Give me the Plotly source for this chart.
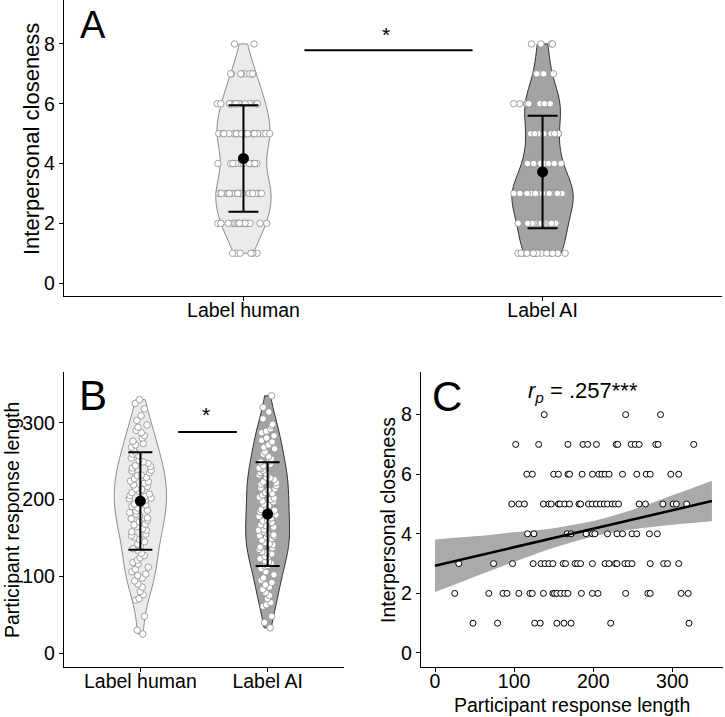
import numpy as np
import plotly.graph_objects as go

FONT = "Liberation Sans, Arial, sans-serif"
W, H = 725, 717

# ---------------- data ----------------
groups = ["Label human", "Label AI"]
group_pos = [1, 2]

closeness_levels = [1, 2, 3, 4, 5, 6, 7, 8]
human_closeness_counts = [6, 17, 22, 13, 21, 16, 9, 2]
ai_closeness_counts = [15, 16, 24, 12, 10, 14, 5, 4]
closeness_mean = [4.17, 3.72]
closeness_sd = [1.78, 1.88]

human_length = [330, 325, 318, 309, 303,
                297, 294, 290, 287, 283, 280, 276, 273, 271, 268, 265, 262, 259, 257, 254, 251,
                249, 247, 244, 243, 241, 238, 237, 235, 232, 231, 229, 227, 224, 223, 221, 219,
                217, 214, 213, 211, 209, 207, 205, 204, 202, 201,
                199, 197, 194, 193, 191, 189, 186, 185, 183, 181, 179, 176, 175, 173, 171, 168,
                167, 165, 162, 160, 158, 155, 153, 151,
                148, 145, 142, 139, 136, 134, 130, 127, 124, 121, 118, 116, 112, 109, 106, 103, 101,
                98, 94, 90, 86, 80, 76, 71, 69,
                48, 30, 25]
ai_length = [335, 320, 314, 305,
             298, 296, 292, 289, 287, 283, 280, 277, 275, 271, 268, 266, 262, 259, 256, 253,
             250, 249, 246, 244, 241, 240, 238, 235, 234, 232, 229, 228, 226, 223, 222, 220,
             218, 215, 214, 212, 209, 208, 206, 203, 202, 200,
             198, 197, 194, 192, 190, 187, 186, 184, 181, 180, 178, 176, 173, 172, 170, 167,
             166, 164, 161, 160, 158, 156, 154, 153, 152, 151,
             149, 147, 144, 143, 141, 138, 137, 135, 132, 131, 129, 126, 125, 123, 120, 119,
             117, 114, 113, 110, 106, 102,
             98, 95, 92, 89, 86, 83, 79, 75, 71, 66, 63, 61,
             48, 40, 33]
length_mean = [198, 181]
length_sd = [63.5, 67.5]

# panel C: participant response length grouped by closeness level
scatter_len_by_level = {
    8: [138, 241, 285],
    7: [102, 131, 168, 187, 193, 204, 229, 231, 248, 253, 258, 279, 282, 327],
    6: [116, 123, 150, 156, 168, 170, 186, 199, 207, 211, 215, 220, 237, 255, 267, 272, 298, 308],
    5: [97, 106, 113, 137, 144, 147, 156, 158, 164, 170, 182, 184, 194, 199, 204, 209, 214, 218,
        224, 228, 232, 258, 266, 288, 301, 305, 318],
    4: [117, 125, 167, 172, 191, 199, 202, 218, 230, 237, 249, 255, 271, 281],
    3: [30, 74, 98, 124, 134, 139, 144, 149, 162, 165, 177, 180, 184, 199, 215, 220, 228, 230,
        240, 244, 249, 272, 289, 294, 308],
    2: [25, 68, 86, 91, 106, 120, 123, 137, 149, 151, 154, 159, 164, 168, 185, 199, 206, 241,
        269, 272, 311, 320],
    1: [48, 79, 126, 133, 154, 163, 172, 222, 321],
}
fit_x = [0, 25, 50, 75, 100, 125, 150, 175, 200, 225, 250, 275, 300, 325, 350]
fit_y = [2.93, 3.085, 3.24, 3.395, 3.55, 3.705, 3.86, 4.015, 4.17, 4.325, 4.48, 4.635, 4.79, 4.945, 5.10]
ci_lo = [2.05, 2.30, 2.56, 2.81, 3.06, 3.30, 3.53, 3.73, 3.91, 4.04, 4.15, 4.23, 4.30, 4.36, 4.42]
ci_hi = [3.81, 3.87, 3.92, 3.98, 4.05, 4.11, 4.19, 4.30, 4.43, 4.61, 4.81, 5.04, 5.29, 5.53, 5.78]

# ---------------- styles ----------------
fill_cols = ["#EBEBEB", "#A3A3A3"]
edge_cols = ["#8C8C8C", "#333333"]

human_closeness = np.repeat(closeness_levels, human_closeness_counts)
ai_closeness = np.repeat(closeness_levels, ai_closeness_counts)

fig = go.Figure()

# ---------- Panel A ----------
for i, vals, wd in [(0, human_closeness, 0.185), (1, ai_closeness, 0.205)]:
    fig.add_trace(go.Violin(
        x0=group_pos[i], y=vals, xaxis="x", yaxis="y",
        width=wd, scalemode="width", spanmode="hard", bandwidth=0.65,
        fillcolor=fill_cols[i], line=dict(color=edge_cols[i], width=1),
        points="all", pointpos=0, jitter=0.95,
        marker=dict(color="white", size=6.5, line=dict(color="#8C8C8C", width=0.8)),
        showlegend=False, hoverinfo="y"))
fig.add_trace(go.Scatter(
    x=group_pos, y=closeness_mean, xaxis="x", yaxis="y", mode="markers",
    marker=dict(color="black", size=11),
    error_y=dict(type="data", array=closeness_sd, color="black", thickness=2, width=15),
    showlegend=False))
fig.add_trace(go.Scatter(x=[1.204, 1.766], y=[7.79, 7.79], xaxis="x", yaxis="y",
                         mode="lines", line=dict(color="black", width=2), showlegend=False))

# ---------- Panel B ----------
for i, vals, wd in [(0, human_length, 0.41), (1, ai_length, 0.345)]:
    fig.add_trace(go.Violin(
        x0=group_pos[i], y=vals, xaxis="x2", yaxis="y2",
        width=wd, scalemode="width", spanmode="hard", bandwidth=23,
        fillcolor=fill_cols[i], line=dict(color=edge_cols[i], width=1),
        points="all", pointpos=0, jitter=0.45,
        marker=dict(color="white", size=6.5, line=dict(color="#8C8C8C", width=0.8)),
        showlegend=False, hoverinfo="y"))
fig.add_trace(go.Scatter(
    x=group_pos, y=length_mean, xaxis="x2", yaxis="y2", mode="markers",
    marker=dict(color="black", size=11),
    error_y=dict(type="data", array=length_sd, color="black", thickness=2, width=12),
    showlegend=False))
fig.add_trace(go.Scatter(x=[1.297, 1.758], y=[288, 288], xaxis="x2", yaxis="y2",
                         mode="lines", line=dict(color="black", width=2), showlegend=False))

# ---------- Panel C ----------
sc_x, sc_y = [], []
for lvl, xs in scatter_len_by_level.items():
    sc_x += xs
    sc_y += [lvl] * len(xs)

fig.add_trace(go.Scatter(x=fit_x, y=ci_lo, xaxis="x3", yaxis="y3", mode="lines",
                         line=dict(width=0, shape="spline"), showlegend=False, hoverinfo="skip"))
fig.add_trace(go.Scatter(x=fit_x, y=ci_hi, xaxis="x3", yaxis="y3", mode="lines",
                         fill="tonexty", fillcolor="#AAAAAA",
                         line=dict(width=0, shape="spline"), showlegend=False, hoverinfo="skip"))
fig.add_trace(go.Scatter(x=sc_x, y=sc_y, xaxis="x3", yaxis="y3", mode="markers",
                         marker=dict(color="white", size=6, line=dict(color="black", width=1)),
                         showlegend=False))
fig.add_trace(go.Scatter(x=fit_x, y=fit_y, xaxis="x3", yaxis="y3", mode="lines",
                         line=dict(color="black", width=2.5), showlegend=False))

# ---------------- layout ----------------
def ax(**kw):
    d = dict(showline=True, linecolor="black", linewidth=1.4, ticks="outside", ticklen=4,
             tickcolor="black", tickwidth=1.2, showgrid=False, zeroline=False,
             tickfont=dict(size=19.5, color="black", family=FONT), fixedrange=True)
    d.update(kw)
    return d

yA = [(H - 296) / H, 1.0]
yBC = [(H - 667) / H, (H - 372) / H]

fig.update_layout(
    width=W, height=H, margin=dict(l=0, r=0, t=0, b=0),
    paper_bgcolor="white", plot_bgcolor="white",
    violinmode="overlay",
    font=dict(family=FONT, color="black"),
    xaxis=ax(domain=[64 / W, 722 / W], anchor="y", range=[0.4, 2.6],
             tickvals=group_pos, ticktext=groups, ticklabelstandoff=-8),
    yaxis=ax(domain=yA, anchor="x", range=[-0.43, 9.47], tickvals=[0, 2, 4, 6, 8]),
    xaxis2=ax(domain=[64 / W, 344 / W], anchor="y2", range=[0.4, 2.6],
              tickvals=group_pos, ticktext=groups, ticklabelstandoff=-8),
    yaxis2=ax(domain=yBC, anchor="x2", range=[-18, 366], tickvals=[0, 100, 200, 300]),
    xaxis3=ax(domain=[421 / W, 723 / W], anchor="y3", range=[-17.7, 364],
              tickvals=[0, 100, 200, 300], ticklabelstandoff=-8),
    yaxis3=ax(domain=yBC, anchor="x3", range=[-0.47, 9.43], tickvals=[0, 2, 4, 6, 8]),
)

def px_ann(text, x, y, size, angle=0, **kw):
    fig.add_annotation(text=text, x=x / W, y=(H - y) / H, xref="paper", yref="paper",
                       showarrow=False, textangle=angle,
                       font=dict(size=size, color="black", family=FONT),
                       xanchor="center", yanchor="middle", **kw)

# panel letters
px_ann("A", 93, 25, 38)
px_ann("B", 93, 395, 42)
px_ann("C", 447, 397, 42)
# significance stars
px_ann("*", 386, 34, 21)
px_ann("*", 206, 414, 21)
# correlation label
px_ann("<i>r</i><sub><i>p</i></sub> = .257***", 583, 392, 22)
# axis titles
px_ann("Interpersonal closeness", 31, 139, 22, angle=-90)
px_ann("Participant response length", 12, 520, 19.5, angle=-90)
px_ann("Interpersonal closeness", 388, 520, 19.5, angle=-90)
px_ann("Participant response length", 572, 705, 19.5)

fig.write_html("out.html")
